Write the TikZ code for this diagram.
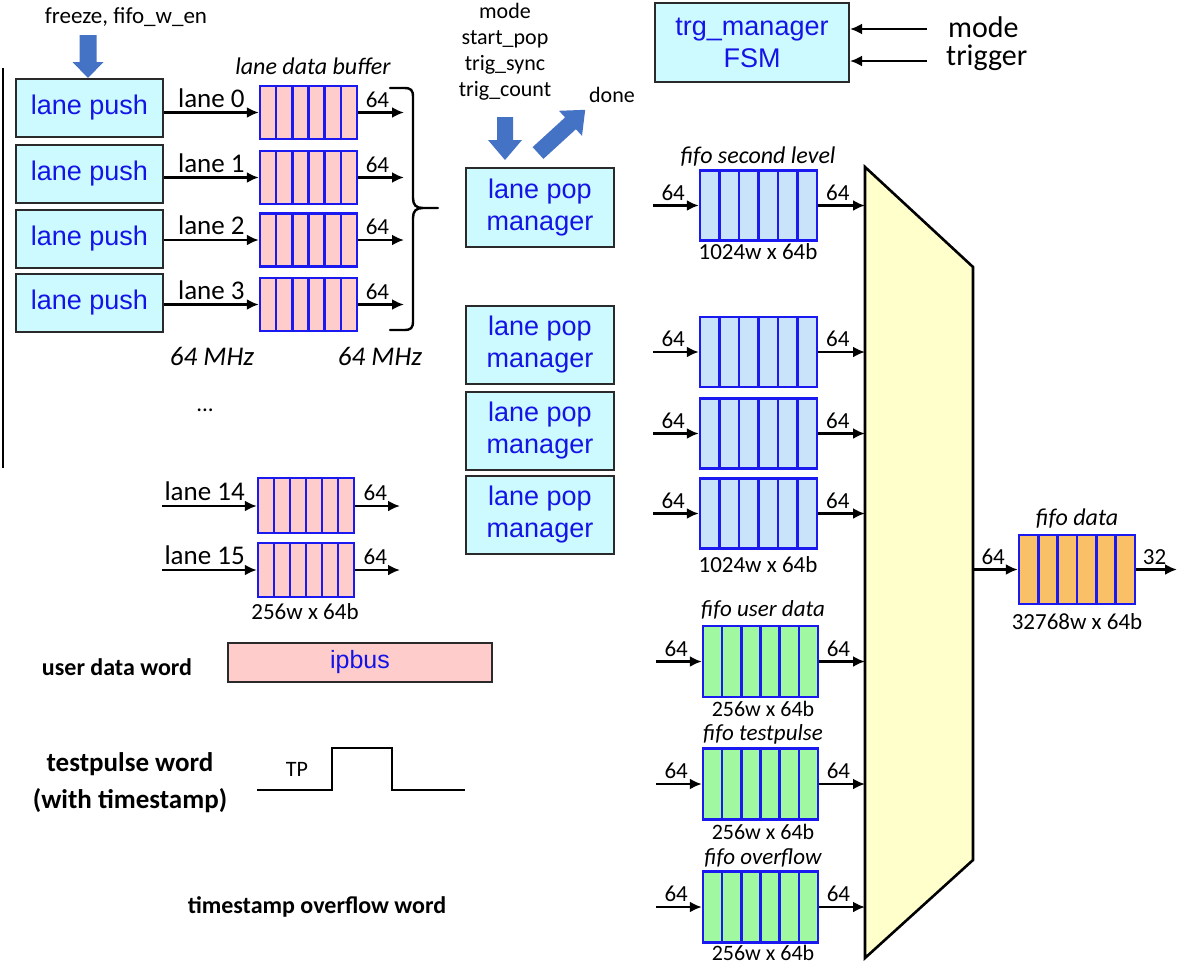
\documentclass[tikz,border=0pt]{standalone}
\usepackage{fontspec}
\setmainfont{Carlito}
\newfontfamily\arialfont{Liberation Sans}
\usetikzlibrary{arrows.meta,calc}

\definecolor{boxcyan}{HTML}{CCFAFF}
\definecolor{bufpink}{HTML}{FFCCCC}
\definecolor{bufblue}{HTML}{C9E4FA}
\definecolor{bufgreen}{HTML}{A0F8A0}
\definecolor{buforange}{HTML}{F9C068}
\definecolor{muxyellow}{HTML}{FFFFCC}
\definecolor{cellblue}{HTML}{1A1AF0}
\definecolor{txtblue}{HTML}{1414E6}
\definecolor{flowblue}{HTML}{4472C4}
\definecolor{edgegray}{HTML}{2A2A2A}

\begin{document}
\begin{tikzpicture}[x=1pt,y=-1pt,
  blockbox/.style={draw=edgegray, line width=2pt, fill=boxcyan, inner sep=0pt,
     text=txtblue, align=center, font=\arialfont\fontsize{27}{32}\selectfont},
  fifo/.style={draw=cellblue, line width=2.4pt, inner sep=0pt,
     minimum width=97pt, minimum height=53pt,
     path picture={\foreach \k in {1,...,5}{
        \draw[cellblue, line width=2.4pt]
          ($(path picture bounding box.north west)!\k/6!(path picture bounding box.north east)$) --
          ($(path picture bounding box.south west)!\k/6!(path picture bounding box.south east)$);}}},
  bus/.style={line width=2.4pt, -{Latex[length=12pt,width=11pt]}},
  sm/.style={font=\fontsize{23}{26}\selectfont, inner sep=0pt},
  tiny/.style={font=\fontsize{22}{26}\selectfont, inner sep=0pt, align=center},
  lanelab/.style={font=\fontsize{27}{30}\selectfont, inner sep=0pt},
  itl/.style={font=\itshape\fontsize{24}{28}\selectfont, inner sep=0pt},
  bigit/.style={font=\itshape\fontsize{27}{30}\selectfont, inner sep=0pt},
  bigl/.style={font=\fontsize{30}{34}\selectfont, inner sep=0pt},
  boldl/.style={font=\bfseries\fontsize{24}{28}\selectfont, inner sep=0pt},
  boldbig/.style={font=\bfseries\fontsize{27}{37}\selectfont, inner sep=0pt, align=center},
  wire/.style={line width=2.6pt}
]
\useasboundingbox (0,0) rectangle (1177,967);

% ---------- lane push stage ----------
\draw[line width=2.8pt] (3,68) -- (3,468);

\node[sm] (frz) at (126,17) {freeze, fifo\_w\_en};
\fill[flowblue] (79.5,35) -- (96.5,35) -- (96.5,62) -- (103.5,62) -- (88,78)
  -- (72.5,62) -- (79.5,62) -- cycle;

\node[itl] (ldb) at (313,66) {lane data buffer};

\foreach \i/\yp/\yb in {0/108/112.5, 1/174/177.5, 2/238.5/240, 3/303/304.5}{
  \node[blockbox, minimum width=147pt, minimum height=58pt] (push\i) at (89.5,\yp) {lane push};
  \node[fifo, fill=bufpink] (buf\i) at (308.5,\yb) {};
  \draw[bus] (push\i.east |- buf\i.west) -- node[lanelab, above=4pt]{lane \i} (buf\i.west);
  \coordinate (bufo\i) at (404,\yb);
  \draw[bus] (buf\i.east) -- node[sm, above=4pt, pos=0.42]{64} (bufo\i);
}

% brace gathering the lanes
\draw[line width=2.4pt, line cap=round]
  (390,88) -- (404,88) .. controls (411,88) and (413,90) .. (413,97) -- (413,198)
  .. controls (413,205) and (416,208) .. (423,208) -- (438,208)
  (423,208) .. controls (416,208) and (413,211) .. (413,218) -- (413,321)
  .. controls (413,328) and (411,330) .. (404,330) -- (390,330);

\node[bigit] (mhzA) at (212,356) {64 MHz};
\node[bigit] (mhzB) at (380,356) {64 MHz};
\node[sm] (dots) at (205,410) {...};

\node[fifo, fill=bufpink, minimum width=96pt, minimum height=55pt] (buf14) at (306,505.5) {};
\node[fifo, fill=bufpink, minimum width=96pt, minimum height=54pt] (buf15) at (306,570) {};
\coordinate (in14) at (162,506);
\coordinate (in15) at (162,570);
\coordinate (out14) at (400,506);
\coordinate (out15) at (400,570);
\draw[bus] (in14) -- node[lanelab, above=4pt, pos=0.45]{lane 14} (buf14.west |- in14);
\draw[bus] (in15) -- node[lanelab, above=4pt, pos=0.45]{lane 15} (buf15.west |- in15);
\draw[bus] (buf14.east |- out14) -- node[sm, above=4pt, pos=0.45]{64} (out14);
\draw[bus] (buf15.east |- out15) -- node[sm, above=4pt, pos=0.45]{64} (out15);
\node[sm] (sz15) at (305,612) {256w x 64b};

% ---------- pop managers and trigger FSM ----------
\node[tiny] (ctl) at (505,52) {mode\\start\_pop\\trig\_sync\\trig\_count};
\node[tiny] (done) at (612,95) {done};
\fill[flowblue] (497,117) -- (513,117) -- (513,140) -- (522,140) -- (505,160)
  -- (488,140) -- (497,140) -- cycle;
\fill[flowblue] (543.4,158.9) -- (575.9,129.2) -- (582.0,135.8) -- (585.2,109.8)
  -- (559.0,110.8) -- (565.1,117.4) -- (532.6,147.1) -- cycle;

\node[blockbox, minimum width=148pt, minimum height=79pt] (pm1) at (540,207.5) {lane pop\\manager};
\node[blockbox, minimum width=148pt, minimum height=78pt] (pm2) at (540,345) {lane pop\\manager};
\node[blockbox, minimum width=148pt, minimum height=78pt] (pm3) at (540,431) {lane pop\\manager};
\node[blockbox, minimum width=148pt, minimum height=78pt] (pm4) at (540,514.5) {lane pop\\manager};

\node[blockbox, minimum width=194pt, minimum height=79pt] (trg) at (752,42.5) {trg\_manager\\FSM};
\coordinate (modein) at (927,29);
\coordinate (trigin) at (927,61);
\draw[bus] (modein) -- (trg.east |- modein);
\draw[bus] (trigin) -- (trg.east |- trigin);
\node[bigl, anchor=west] (modelab) at (948,27) {mode};
\node[bigl, anchor=west] (triglab) at (946,58) {trigger};

% ---------- multiplexer ----------
\coordinate (mtl) at (865,167);
\coordinate (mtr) at (973,267);
\coordinate (mbr) at (973,860);
\coordinate (mbl) at (865,958);
\draw[wire, fill=muxyellow, line join=miter] (mtl) -- (mtr) -- (mbr) -- (mbl) -- cycle;

% ---------- second level FIFOs ----------
\node[itl] (slab) at (758,157) {fifo second level};
\foreach \n/\y in {1/205.5, 2/352, 3/433.5, 4/513.5}{
  \node[fifo, fill=bufblue, minimum width=117pt, minimum height=70pt] (sl\n) at (758.5,\y) {};
  \coordinate (sli\n) at (653,\y);
  \draw[bus] (sli\n) -- node[sm, above=4pt, pos=0.44]{64} (sl\n.west);
  \draw[bus] (sl\n.east) -- node[sm, above=4pt, pos=0.42]{64} (mtl |- sl\n.east);
}
\node[sm] (sz1) at (758,252) {1024w x 64b};
\node[sm] (sz4) at (758,565) {1024w x 64b};

% ---------- special word FIFOs ----------
\foreach \n/\y/\ly/\sy/\t in {ud/661.5/610/709/fifo user data,
                             tp/784/734/832/fifo testpulse,
                             ov/907/858/953/fifo overflow}{
  \node[fifo, fill=bufgreen, minimum width=115pt, minimum height=71pt] (\n) at (760.5,\y) {};
  \node[itl, font=\itshape\fontsize{23}{26}\selectfont] (\n lab) at (763,\ly) {\t};
  \node[sm, font=\fontsize{22}{26}\selectfont] (\n sz) at (763,\sy) {256w x 64b};
  \coordinate (\n in) at (656,\y);
  \draw[bus] (\n in) -- node[sm, above=4pt, pos=0.44]{64} (\n.west);
  \draw[bus] (\n.east) -- node[sm, above=4pt, pos=0.42]{64} (mtl |- \n.east);
}

% ---------- output FIFO ----------
\node[fifo, fill=buforange, minimum width=116pt, minimum height=69pt] (fd) at (1077,569.5) {};
\node[itl] (fdlab) at (1077,519) {fifo data};
\node[sm] (fdsz) at (1077,622) {32768w x 64b};
\coordinate (fdout) at (1177,569.5);
\draw[bus] (mbr |- fd.west) -- node[sm, above=4pt, pos=0.45]{64} (fd.west);
\draw[bus] (fd.east) -- node[sm, above=4pt, pos=0.45]{32} (fdout);

% ---------- word sources ----------
\node[boldl] (udw) at (117,667) {user data word};
\node[draw=edgegray, line width=2pt, fill=bufpink, minimum width=264pt, minimum height=39pt,
  inner sep=0pt, text=txtblue, font=\arialfont\fontsize{25}{28}\selectfont] (ipbus) at (360,662.5) {ipbus};

\node[boldbig] (tpw) at (130,783) {testpulse word\\(with timestamp)};
\draw[wire, line join=miter] (257,790) -- (332,790) -- (332,748) -- (392,748) -- (392,790) -- (465,790);
\node[tiny] (tplab) at (297,769) {TP};

\node[boldl] (tsw) at (317,907) {timestamp overflow word};
\end{tikzpicture}
\end{document}
